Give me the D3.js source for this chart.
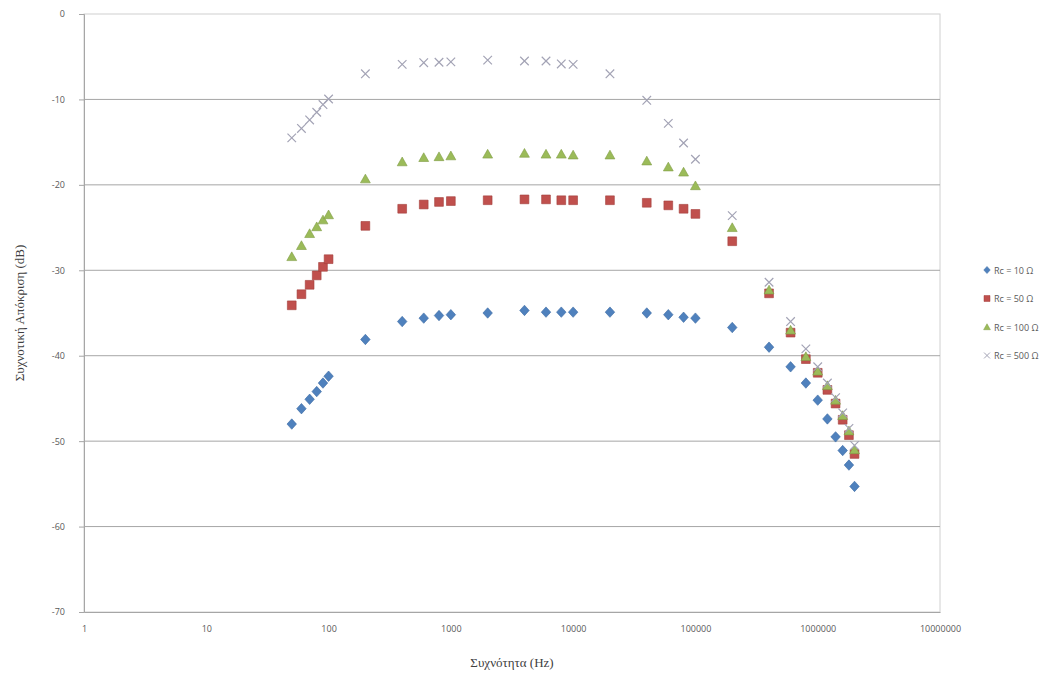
<!DOCTYPE html>
<html>
<head>
<meta charset="utf-8">
<script src="https://cdn.jsdelivr.net/npm/d3@7"></script>
<style>
  body { margin: 0; background: #fff; }
  .tick text { font-family: "Open Sans", "Liberation Sans", sans-serif; font-size: 9px; fill: #595959; }
</style>
</head>
<body>
<div id="chart"></div>
<script>
const freqs = [50, 60, 70, 80, 90, 100, 200, 400, 600, 800, 1000, 2000, 4000, 6000, 8000, 10000,
  20000, 40000, 60000, 80000, 100000, 200000, 400000, 600000, 800000, 1000000,
  1200000, 1400000, 1600000, 1800000, 2000000];

const rc10 = [-48.0, -46.2, -45.1, -44.2, -43.2, -42.4, -38.1, -36.0, -35.6, -35.3, -35.2, -35.0, -34.7, -34.9, -34.9, -34.9,
  -34.9, -35.0, -35.2, -35.5, -35.6, -36.7, -39.0, -41.3, -43.2, -45.2, -47.4, -49.5, -51.1, -52.8, -55.3];
const rc50 = [-34.1, -32.8, -31.7, -30.6, -29.6, -28.7, -24.8, -22.8, -22.3, -22.0, -21.9, -21.8, -21.7, -21.7, -21.8, -21.8,
  -21.8, -22.1, -22.4, -22.8, -23.4, -26.6, -32.7, -37.3, -40.4, -42.0, -44.0, -45.6, -47.5, -49.3, -51.5];
const rc100 = [-28.4, -27.1, -25.7, -24.9, -24.1, -23.5, -19.3, -17.3, -16.8, -16.7, -16.6, -16.4, -16.3, -16.4, -16.4, -16.5,
  -16.5, -17.2, -17.9, -18.5, -20.1, -25.0, -32.3, -37.0, -40.1, -41.8, -43.5, -45.2, -47.0, -48.8, -51.0];
const rc500 = [-14.5, -13.4, -12.4, -11.5, -10.6, -9.95, -7.0, -5.9, -5.7, -5.65, -5.6, -5.4, -5.5, -5.5, -5.85, -5.9,
  -7.0, -10.1, -12.8, -15.1, -17.0, -23.6, -31.4, -36.0, -39.2, -41.3, -43.2, -44.9, -46.7, -48.5, -50.5];

const seriesNames = ["Rc = 10 Ω", "Rc = 50 Ω", "Rc = 100 Ω", "Rc = 500 Ω"];
const xTicks = [1, 10, 100, 1000, 10000, 100000, 1000000, 10000000];
const yTicks = [0, -10, -20, -30, -40, -50, -60, -70];

const width = 1053, height = 679;
const margin = { top: 14, right: 113, bottom: 67, left: 84 };
const chartWidth = width - margin.left - margin.right;
const chartHeight = height - margin.top - margin.bottom;

const svg = d3.select("#chart").append("svg")
  .attr("width", width)
  .attr("height", height);

const g = svg.append("g")
  .attr("transform", `translate(${margin.left},${margin.top})`);

const x = d3.scaleLog().domain([1, 10000000]).range([0, chartWidth]);
const y = d3.scaleLinear().domain([-70, 0]).range([chartHeight, 0]);

// plot area border
g.append("rect")
  .attr("width", chartWidth)
  .attr("height", chartHeight)
  .attr("fill", "none")
  .attr("stroke", "#d0d0d0");

// horizontal gridlines
g.append("g")
  .selectAll("line")
  .data(yTicks.filter(d => d !== 0 && d !== -70))
  .join("line")
  .attr("x1", 0)
  .attr("x2", chartWidth)
  .attr("y1", d => y(d))
  .attr("y2", d => y(d))
  .attr("stroke", "#a6a6a6");

const yAxis = g.append("g")
  .call(d3.axisLeft(y).tickValues(yTicks).tickFormat(d => String(d)).tickSize(5).tickPadding(14));
yAxis.select(".domain").attr("stroke", "#a6a6a6");
yAxis.selectAll(".tick line").attr("stroke", "#a6a6a6");

const xAxis = g.append("g")
  .attr("transform", `translate(0,${chartHeight})`)
  .call(d3.axisBottom(x).tickValues(xTicks).tickFormat(d => String(d)).tickSize(0).tickPadding(14));
xAxis.select(".domain").attr("stroke", "#a6a6a6");

// markers
const styles = [
  { fill: "#4F81BD", stroke: "#3b6aa3", shape: "diamond" },
  { fill: "#C0504D", stroke: "#a33e3b", shape: "square" },
  { fill: "#9BBB59", stroke: "#7f9c45", shape: "triangle" },
  { fill: "none", stroke: "#a3a3b5", shape: "cross" }
];
const seriesValues = [rc10, rc50, rc100, rc500];

function markerPath(shape, s) {
  if (shape === "diamond") return `M0,${-s * 0.55}L${s * 0.5},0L0,${s * 0.55}L${-s * 0.5},0Z`;
  if (shape === "square") return d3.symbol(d3.symbolSquare, s * s * 0.85)();
  if (shape === "triangle") return `M0,${-s * 0.5}L${s * 0.52},${s * 0.42}L${-s * 0.52},${s * 0.42}Z`;
  const h = s * 0.45;
  return `M${-h},${-h}L${h},${h}M${h},${-h}L${-h},${h}`;
}

seriesValues.forEach((vals, i) => {
  const st = styles[i];
  g.append("g")
    .selectAll("path")
    .data(freqs.map((f, j) => [f, vals[j]]))
    .join("path")
    .attr("transform", d => `translate(${x(d[0])},${y(d[1])})`)
    .attr("d", markerPath(st.shape, 9.5))
    .attr("fill", st.fill)
    .attr("stroke", st.stroke)
    .attr("stroke-width", st.shape === "cross" ? 1.2 : 0.6);
});

// legend
const legend = svg.append("g")
  .attr("transform", "translate(987,270)");
seriesNames.forEach((name, i) => {
  const st = styles[i];
  const row = legend.append("g").attr("transform", `translate(0,${i * 28.5})`);
  row.append("path")
    .attr("d", markerPath(st.shape, 6.5))
    .attr("fill", st.fill)
    .attr("stroke", st.stroke)
    .attr("stroke-width", st.shape === "cross" ? 1 : 0.5);
  row.append("text")
    .attr("x", 7)
    .attr("y", 3.5)
    .attr("font-family", "'Open Sans', 'Liberation Sans', sans-serif")
    .attr("font-size", 9)
    .attr("fill", "#595959")
    .text(name);
});

// axis titles
g.append("text")
  .attr("x", chartWidth / 2)
  .attr("y", chartHeight + 55)
  .attr("text-anchor", "middle")
  .attr("font-family", "'Liberation Serif', 'DejaVu Serif', serif")
  .attr("font-size", 13)
  .attr("fill", "#404040")
  .text("Συχνότητα (Hz)");

g.append("text")
  .attr("transform", "rotate(-90)")
  .attr("x", -chartHeight / 2)
  .attr("y", -60)
  .attr("text-anchor", "middle")
  .attr("font-family", "'Liberation Serif', 'DejaVu Serif', serif")
  .attr("font-size", 13)
  .attr("fill", "#404040")
  .text("Συχνοτική Απόκριση (dB)");
</script>
</body>
</html>
